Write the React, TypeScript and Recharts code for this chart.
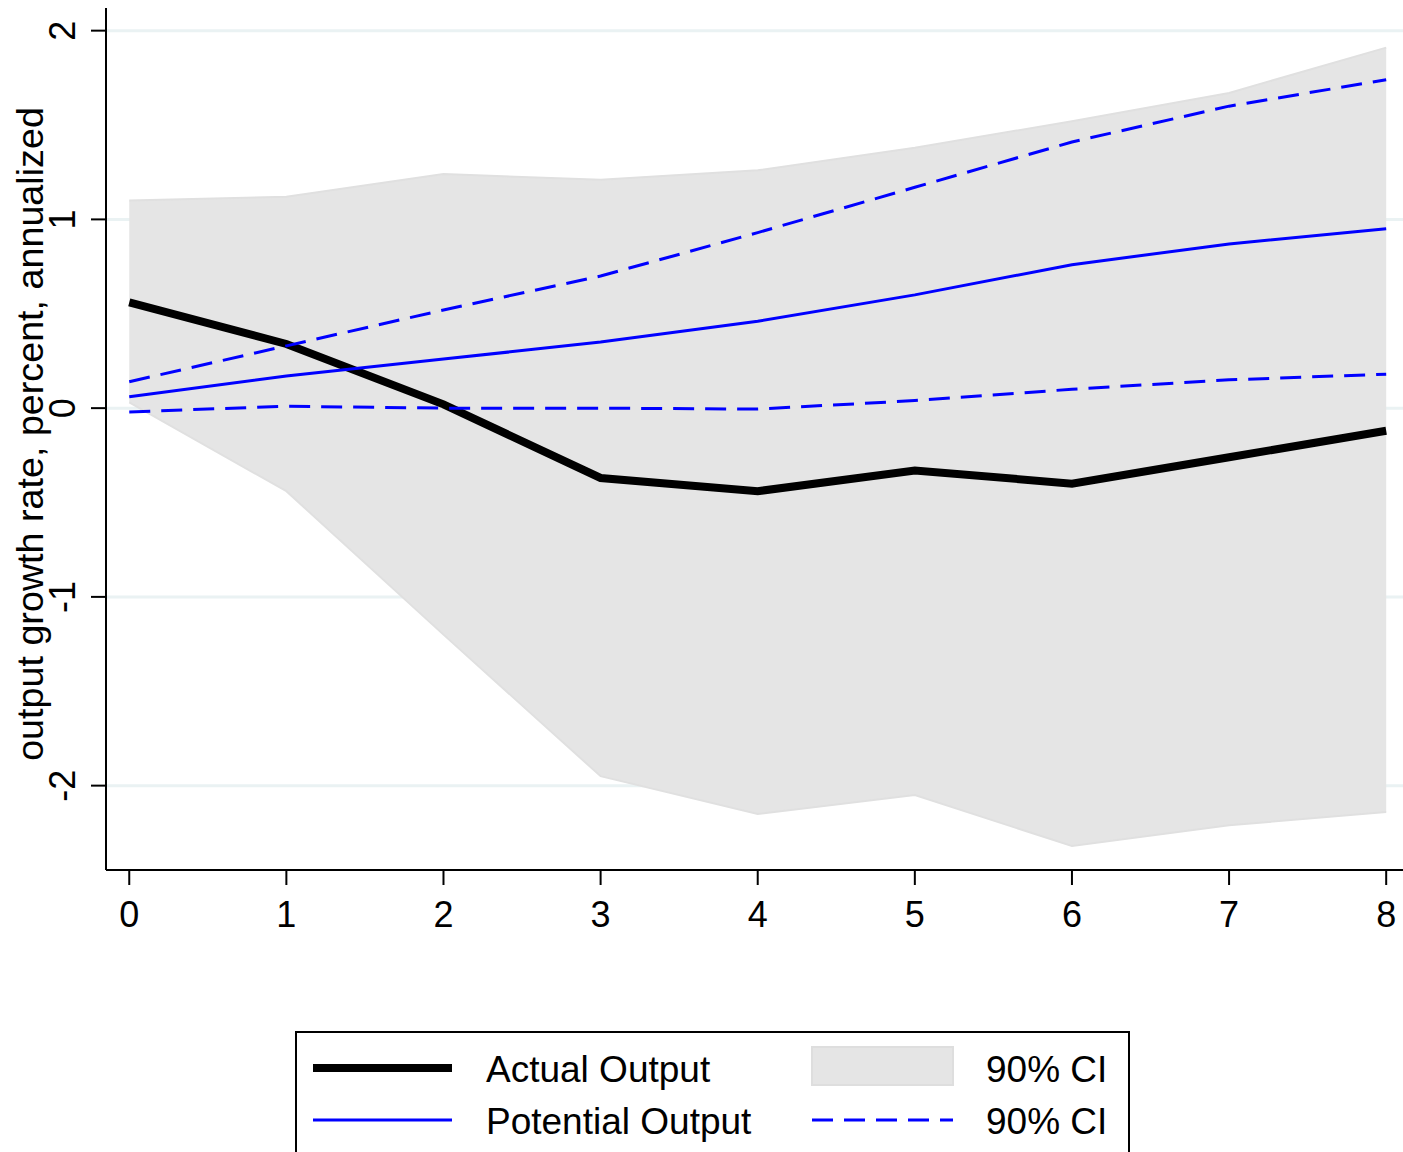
import React from 'react';
import { ComposedChart, Line, Area, XAxis, YAxis, CartesianGrid } from 'recharts';

const horizons = [0, 1, 2, 3, 4, 5, 6, 7, 8];
const actualOutput = [0.56, 0.34, 0.02, -0.37, -0.44, -0.33, -0.40, -0.26, -0.12];
const potentialOutput = [0.06, 0.17, 0.26, 0.35, 0.46, 0.60, 0.76, 0.87, 0.95];
const potentialUpper = [0.14, 0.33, 0.52, 0.70, 0.93, 1.17, 1.41, 1.60, 1.74];
const potentialLower = [-0.02, 0.01, 0.0, 0.0, -0.005, 0.04, 0.10, 0.15, 0.18];
const actualUpper = [1.10, 1.12, 1.24, 1.21, 1.26, 1.38, 1.52, 1.67, 1.91];
const actualLower = [0.03, -0.44, -1.20, -1.95, -2.15, -2.05, -2.32, -2.21, -2.14];
const xTicks = [0, 1, 2, 3, 4, 5, 6, 7, 8];
const yTicks = [-2, -1, 0, 1, 2];
const yLabel = 'output growth rate, percent, annualized';
const legendLabels = ['Actual Output', 'Potential Output', '90% CI', '90% CI'];

const data = horizons.map((h, i) => ({
  h,
  actual: actualOutput[i],
  potential: potentialOutput[i],
  pUp: potentialUpper[i],
  pLo: potentialLower[i],
  ci: [actualLower[i], actualUpper[i]],
}));

const FONT = '"Liberation Sans", Arial, sans-serif';

const XTick = (props: any) => (
  <text x={props.x} y={927} textAnchor="middle" fontSize={36} fontFamily={FONT} fill="#000">
    {props.payload.value}
  </text>
);

const YTick = (props: any) => (
  <text
    x={75}
    y={props.y}
    transform={`rotate(-90, 75, ${props.y})`}
    textAnchor="middle"
    fontSize={36}
    fontFamily={FONT}
    fill="#000"
  >
    {props.payload.value}
  </text>
);

const YLabel = () => (
  <text
    x={43}
    y={434}
    transform="rotate(-90, 43, 434)"
    textAnchor="middle"
    fontSize={37.7}
    fontFamily={FONT}
    fill="#000"
  >
    {yLabel}
  </text>
);

const Legend = () => (
  <svg width={1403} height={1152} style={{ position: 'absolute', left: 0, top: 0, pointerEvents: 'none' }}>
    <rect x={296} y={1032} width={833} height={140} fill="#fff" stroke="#000" strokeWidth={2} />
    <line x1={313} y1={1068} x2={452} y2={1068} stroke="#000" strokeWidth={8} />
    <line x1={313} y1={1120} x2={452} y2={1120} stroke="#0000ff" strokeWidth={3} />
    <rect x={812} y={1047} width={141} height={38} fill="#e5e5e5" stroke="#dedede" strokeWidth={2} />
    <line x1={812} y1={1120} x2={953} y2={1120} stroke="#0000ff" strokeWidth={3} strokeDasharray="21 11" />
    <text x={486} y={1082} fontSize={37} fontFamily={FONT}>{legendLabels[0]}</text>
    <text x={486} y={1134} fontSize={37} fontFamily={FONT}>{legendLabels[1]}</text>
    <text x={986} y={1082} fontSize={37} fontFamily={FONT}>{legendLabels[2]}</text>
    <text x={986} y={1134} fontSize={37} fontFamily={FONT}>{legendLabels[3]}</text>
  </svg>
);

export default function App() {
  return (
    <div style={{ position: 'absolute', left: 0, top: 0, width: 1403, height: 1152, background: '#fff' }}>
      <ComposedChart width={1403} height={1152} data={data} margin={{ top: 8, right: 0, bottom: 0, left: 0 }}>
        <CartesianGrid horizontal vertical={false} horizontalValues={yTicks} stroke="#eaf2f3" strokeWidth={3} />
        <XAxis
          dataKey="h"
          type="number"
          domain={[-0.148, 8.107]}
          ticks={xTicks}
          allowDataOverflow
          height={282}
          tickSize={15}
          axisLine={{ stroke: '#000', strokeWidth: 2 }}
          tickLine={{ stroke: '#000', strokeWidth: 2 }}
          tick={<XTick />}
          interval={0}
        />
        <YAxis
          type="number"
          domain={[-2.447, 2.12]}
          ticks={yTicks}
          allowDataOverflow
          width={106}
          tickSize={15}
          axisLine={{ stroke: '#000', strokeWidth: 2 }}
          tickLine={{ stroke: '#000', strokeWidth: 2 }}
          tick={<YTick />}
          interval={0}
          label={<YLabel />}
        />
        <Area
          dataKey="ci"
          type="linear"
          fill="#e5e5e5"
          fillOpacity={1}
          stroke="#e0e0e0"
          strokeWidth={2}
          isAnimationActive={false}
          dot={false}
          activeDot={false}
        />
        <Line dataKey="actual" type="linear" stroke="#000" strokeWidth={8} dot={false} activeDot={false} isAnimationActive={false} />
        <Line dataKey="potential" type="linear" stroke="#0000ff" strokeWidth={3} dot={false} activeDot={false} isAnimationActive={false} />
        <Line dataKey="pUp" type="linear" stroke="#0000ff" strokeWidth={3} strokeDasharray="21 11" dot={false} activeDot={false} isAnimationActive={false} />
        <Line dataKey="pLo" type="linear" stroke="#0000ff" strokeWidth={3} strokeDasharray="21 11" dot={false} activeDot={false} isAnimationActive={false} />
      </ComposedChart>
      <Legend />
    </div>
  );
}
